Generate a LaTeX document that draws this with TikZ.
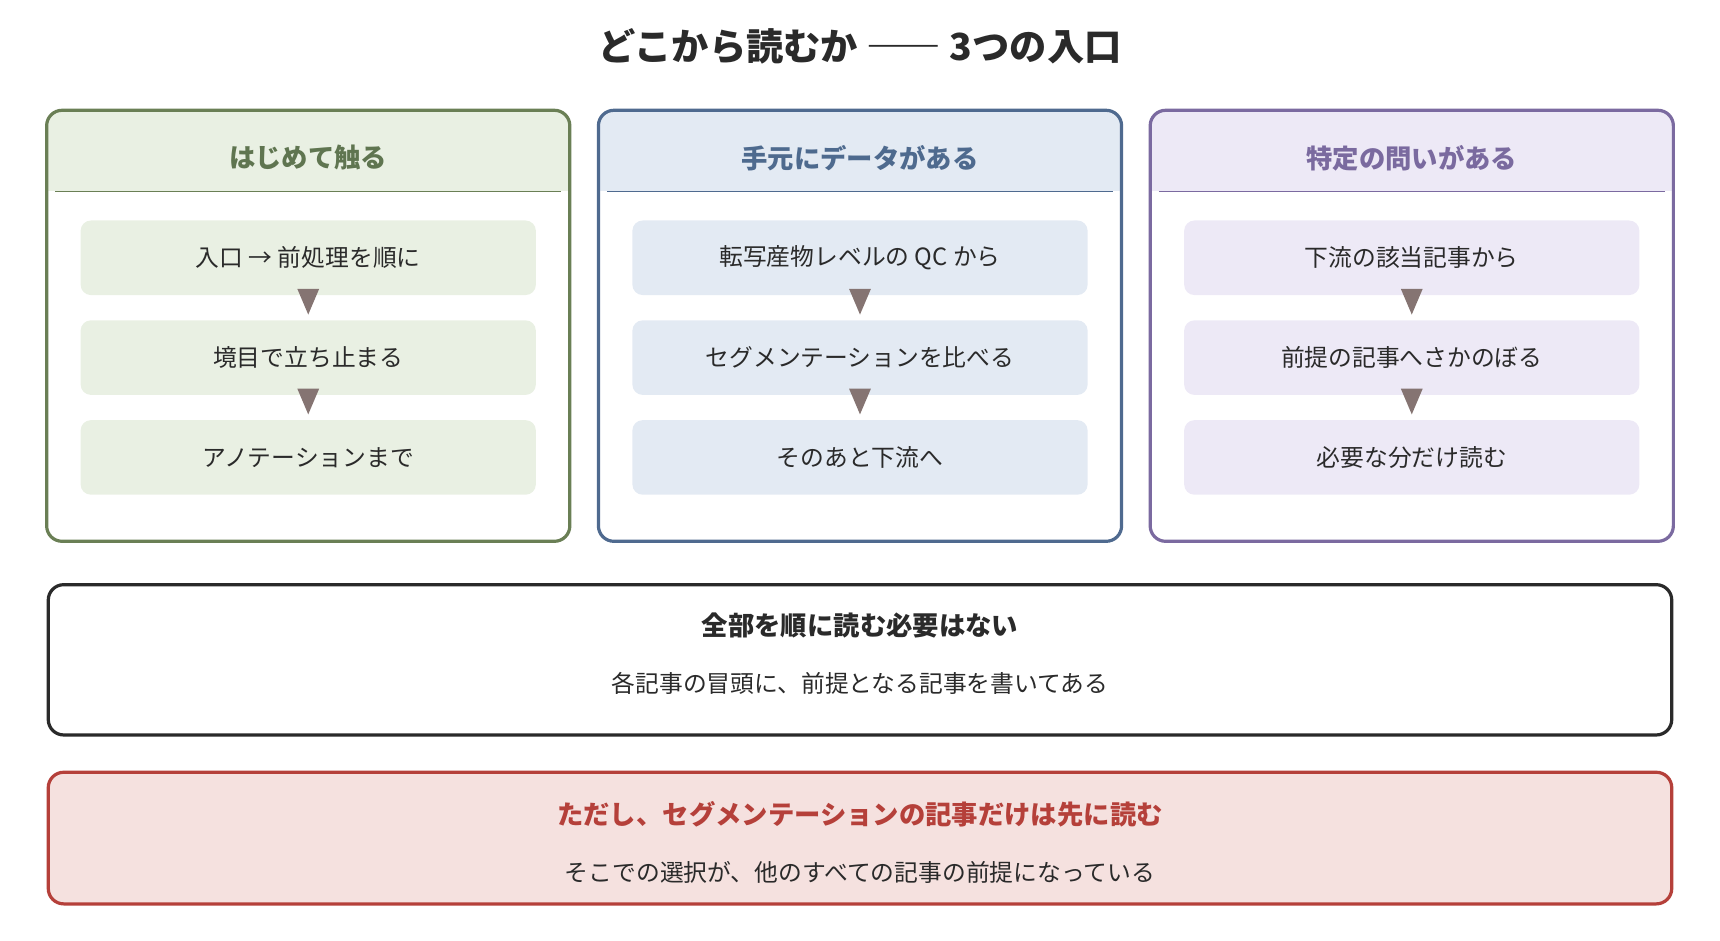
\documentclass[tikz,border=0pt]{standalone}
\usepackage{fontspec}
\setmainfont{Noto Sans CJK JP}
\usetikzlibrary{calc, positioning}

\definecolor{grnline}{HTML}{6A7F55}
\definecolor{grnfill}{HTML}{E9F0E3}
\definecolor{grntext}{HTML}{5F7550}
\definecolor{bluline}{HTML}{4F6A8F}
\definecolor{blufill}{HTML}{E3EAF3}
\definecolor{blutext}{HTML}{4E6A8E}
\definecolor{purline}{HTML}{7B6AA0}
\definecolor{purfill}{HTML}{EDE9F6}
\definecolor{purtext}{HTML}{7A6A9F}
\definecolor{arrcol}{HTML}{857472}
\definecolor{redline}{HTML}{B5403A}
\definecolor{redfill}{HTML}{F5E1DF}
\definecolor{darktext}{HTML}{2A2A2A}

\tikzset{
  readstep/.style={rounded corners=8, minimum width=415*0.03cm, minimum height=68*0.03cm, inner sep=0pt,
    font=\fontsize{18.5}{22}\selectfont, text=darktext},
  column/.style={rounded corners=12, line width=2.5pt, minimum width=474*0.03cm, minimum height=390*0.03cm, inner sep=0pt},
  note/.style={rounded corners=12, line width=2.5pt, minimum width=1480*0.03cm, inner sep=0pt},
}

\begin{document}
\begin{tikzpicture}[x=0.03cm, y=-0.03cm]
\useasboundingbox (0,0) rectangle (1568,857);

\node[font=\fontsize{29}{32}\selectfont\bfseries, text=darktext] (title) at (784,42) {どこから読むか ―― 3つの入口};

\foreach \cx/\nm/\col/\hd/\ta/\tb/\tc in {
  281/g/grn/はじめて触る/入口 → 前処理を順に/境目で立ち止まる/アノテーションまで,
  784/b/blu/手元にデータがある/転写産物レベルの QC から/セグメンテーションを比べる/そのあと下流へ,
  1287/p/pur/特定の問いがある/下流の該当記事から/前提の記事へさかのぼる/必要な分だけ読む}{
    \node[column] (col\nm) at (\cx,297) {};
    \begin{scope}
      \clip[rounded corners=12] (col\nm.north west) rectangle (col\nm.south east);
      \fill[\col fill] (col\nm.north west) rectangle ($(col\nm.north east)+(0,74)$);
    \end{scope}
    \draw[\col line, line width=1pt] ($(col\nm.north west)+(8,74)$) -- ($(col\nm.north east)+(-8,74)$);
    \draw[\col line, line width=2.5pt, rounded corners=12] (col\nm.north west) rectangle (col\nm.south east);
    \node[font=\fontsize{20.5}{24}\selectfont\bfseries, text=\col text] (head\nm) at (\cx,144) {\hd};
    \node[readstep, fill=\col fill] (s1\nm) at (\cx,235) {\ta};
    \node[readstep, fill=\col fill] (s2\nm) at (\cx,326) {\tb};
    \node[readstep, fill=\col fill] (s3\nm) at (\cx,417) {\tc};
    \fill[arrcol] ($(s1\nm.south)+(-10,-6)$) -- ($(s1\nm.south)+(10,-6)$) -- ($(s2\nm.north)+(0,-5)$) -- cycle;
    \fill[arrcol] ($(s2\nm.south)+(-10,-6)$) -- ($(s2\nm.south)+(10,-6)$) -- ($(s3\nm.north)+(0,-5)$) -- cycle;
};

% summary boxes
\node[note, draw=darktext, fill=white, minimum height=137*0.03cm] (allbox) at (784,601.5) {};
\node[font=\fontsize{20.5}{24}\selectfont\bfseries, text=darktext] (alltitle) at (784,570) {全部を順に読む必要はない};
\node[font=\fontsize{18.5}{22}\selectfont, text=darktext] (alltext) at (784,623) {各記事の冒頭に、前提となる記事を書いてある};

\node[note, draw=redline, fill=redfill, minimum height=120*0.03cm] (segbox) at (784,764) {};
\node[font=\fontsize{20.5}{24}\selectfont\bfseries, text=redline] (segtitle) at (784,742) {ただし、セグメンテーションの記事だけは先に読む};
\node[font=\fontsize{18.5}{22}\selectfont, text=darktext] (segtext) at (784,795) {そこでの選択が、他のすべての記事の前提になっている};

\end{tikzpicture}
\end{document}
